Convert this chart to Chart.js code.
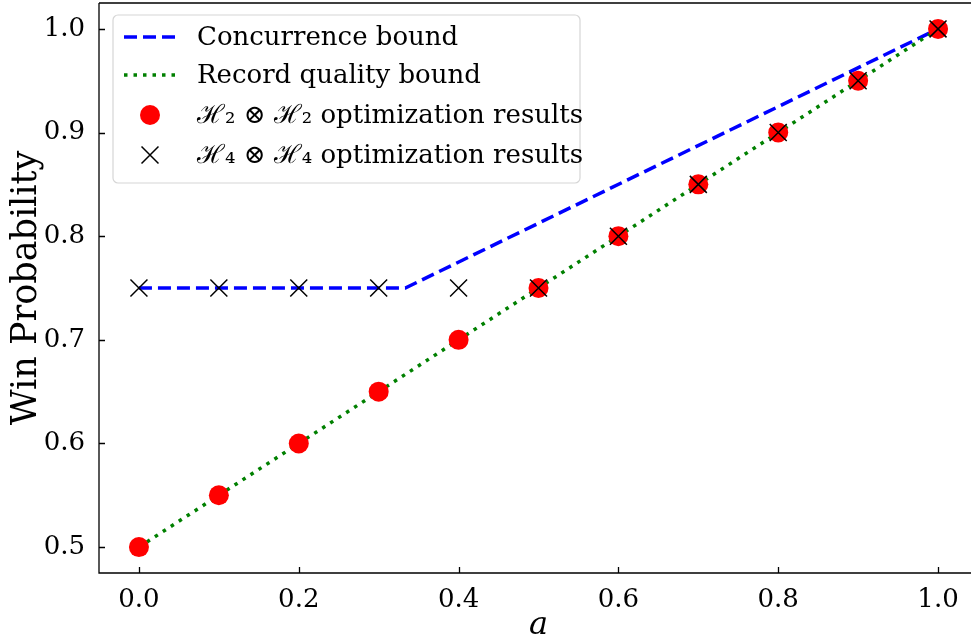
<!DOCTYPE html>
<html>
<head>
<meta charset="utf-8">
<script src="https://cdn.jsdelivr.net/npm/chart.js@4.4.0/dist/chart.umd.min.js"></script>
<style>
  html, body { margin:0; padding:0; background:#fff; overflow:hidden; }
  #wrap { position:relative; width:980px; height:644px; }
</style>
</head>
<body>
<div id="wrap"><canvas id="winChart" width="980" height="644"></canvas></div>
<script>
// values
const aVals = [0.0, 0.1, 0.2, 0.3, 0.4, 0.5, 0.6, 0.7, 0.8, 0.9, 1.0];
const h2Vals = [0.50, 0.55, 0.60, 0.65, 0.70, 0.75, 0.80, 0.85, 0.90, 0.95, 1.00];
const h4Vals = [0.75, 0.75, 0.75, 0.75, 0.75, 0.75, 0.80, 0.85, 0.90, 0.95, 1.00];
const concX = [0.0, 1/3, 1.0];
const concY = [0.75, 0.75, 1.0];
const recX = [0.0, 1.0];
const recY = [0.5, 1.0];
const xTicks = [0.0, 0.2, 0.4, 0.6, 0.8, 1.0];
const yTicks = [0.5, 0.6, 0.7, 0.8, 0.9, 1.0];

const SERIF = '"DejaVu Serif", serif';
const pts = (xs, ys) => xs.map((x, i) => ({x: x, y: ys[i]}));

// inward ticks, top spine and axis titles
const frame = {
  id: 'frame',
  afterDraw(chart){
    const {ctx, chartArea:a, scales} = chart;
    ctx.save();
    ctx.strokeStyle = '#000';
    ctx.lineWidth = 1.3;
    ctx.beginPath();
    ctx.moveTo(a.left, a.top); ctx.lineTo(a.right, a.top);
    ctx.moveTo(a.left, a.top); ctx.lineTo(a.left, a.bottom);
    ctx.lineTo(a.right, a.bottom);
    xTicks.forEach(v => {
      const px = Math.round(scales.x.getPixelForValue(v)) + 0.5;
      ctx.moveTo(px, a.bottom); ctx.lineTo(px, a.bottom - 6);
    });
    yTicks.forEach(v => {
      const py = Math.round(scales.y.getPixelForValue(v)) + 0.5;
      ctx.moveTo(a.left, py); ctx.lineTo(a.left + 6, py);
    });
    ctx.stroke();

    ctx.fillStyle = '#000';
    ctx.textAlign = 'center';
    ctx.textBaseline = 'middle';
    ctx.font = 'italic 32px ' + SERIF;
    ctx.fillText('a', scales.x.getPixelForValue(0.5), 626);
    ctx.translate(27, (a.top + a.bottom) / 2);
    ctx.rotate(-Math.PI / 2);
    ctx.font = '35px ' + SERIF;
    ctx.fillText('Win Probability', 0, 0);
    ctx.restore();
  }
};

// matplotlib style legend box in the upper left
const boxLegend = {
  id: 'boxLegend',
  afterDraw(chart){
    const {ctx} = chart;
    const x0 = 113, y0 = 15, w = 467, h = 168, r = 5;
    ctx.save();
    ctx.fillStyle = 'rgba(255,255,255,0.85)';
    ctx.strokeStyle = '#d6d6d6';
    ctx.lineWidth = 1.2;
    ctx.beginPath();
    ctx.roundRect(x0, y0, w, h, r);
    ctx.fill(); ctx.stroke();

    const rows = [37, 75, 115, 155];
    const items = chart.data.datasets.slice().sort((p, q) => p.legendIdx - q.legendIdx);
    items.forEach((ds, i) => {
      const y = rows[i];
      if (ds.showLine) {
        ctx.strokeStyle = ds.borderColor;
        ctx.lineWidth = ds.borderWidth;
        ctx.setLineDash(ds.borderDash);
        ctx.beginPath();
        ctx.moveTo(124, y); ctx.lineTo(176, y);
        ctx.stroke();
        ctx.setLineDash([]);
      } else if (ds.pointStyle === 'circle') {
        ctx.fillStyle = ds.backgroundColor;
        ctx.beginPath();
        ctx.arc(150, y, ds.pointRadius, 0, Math.PI * 2);
        ctx.fill();
      } else {
        const s = ds.pointRadius * 0.707;
        ctx.strokeStyle = ds.borderColor;
        ctx.lineWidth = ds.borderWidth;
        ctx.beginPath();
        ctx.moveTo(150 - s, y - s); ctx.lineTo(150 + s, y + s);
        ctx.moveTo(150 - s, y + s); ctx.lineTo(150 + s, y - s);
        ctx.stroke();
      }
      ctx.fillStyle = '#000';
      ctx.font = '26px ' + SERIF;
      ctx.textAlign = 'left';
      ctx.textBaseline = 'middle';
      ctx.fillText(ds.label, 197, y + 1);
    });
    ctx.restore();
  }
};

new Chart(document.getElementById('winChart'), {
  type: 'scatter',
  data: {
    datasets: [
      {
        label: 'Concurrence bound', legendIdx: 0, order: 4,
        data: pts(concX, concY), showLine: true,
        borderColor: '#0000ff', borderWidth: 3.5, borderDash: [13, 6],
        pointRadius: 0, fill: false
      },
      {
        label: 'Record quality bound', legendIdx: 1, order: 3,
        data: pts(recX, recY), showLine: true,
        borderColor: '#008000', borderWidth: 3.5, borderDash: [3.5, 6],
        pointRadius: 0, fill: false
      },
      {
        label: 'ℋ₂ ⊗ ℋ₂ optimization results', legendIdx: 2, order: 2,
        data: pts(aVals, h2Vals), showLine: false,
        pointStyle: 'circle', pointRadius: 10,
        backgroundColor: '#ff0000', borderColor: '#ff0000', borderWidth: 0
      },
      {
        label: 'ℋ₄ ⊗ ℋ₄ optimization results', legendIdx: 3, order: 1,
        data: pts(aVals, h4Vals), showLine: false,
        pointStyle: 'crossRot', pointRadius: 12,
        backgroundColor: '#000', borderColor: '#000', borderWidth: 1.5
      }
    ]
  },
  options: {
    responsive: false,
    animation: false,
    layout: { autoPadding: false, padding: { top: 3, right: 2, left: 0, bottom: 0 } },
    plugins: { legend: { display: false }, tooltip: { enabled: false } },
    scales: {
      x: {
        type: 'linear', min: -0.05, max: 1.05,
        afterFit(s){ s.height = 71; s.paddingLeft = 0; s.paddingRight = 0; },
        afterBuildTicks(s){ s.ticks = xTicks.map(v => ({value: v})); },
        grid: { display: false },
        border: { display: false },
        ticks: {
          color: '#000', padding: 4, maxRotation: 0,
          font: { family: SERIF, size: 26 },
          callback: v => v.toFixed(1)
        }
      },
      y: {
        type: 'linear', min: 0.475, max: 1.025,
        afterFit(s){ s.width = 99; s.paddingTop = 0; s.paddingBottom = 0; },
        afterBuildTicks(s){ s.ticks = yTicks.map(v => ({value: v})); },
        grid: { display: false },
        border: { display: false },
        ticks: {
          color: '#000', padding: 6,
          font: { family: SERIF, size: 26 },
          callback: v => v.toFixed(1)
        }
      }
    }
  },
  plugins: [frame, boxLegend]
});
</script>
</body>
</html>
